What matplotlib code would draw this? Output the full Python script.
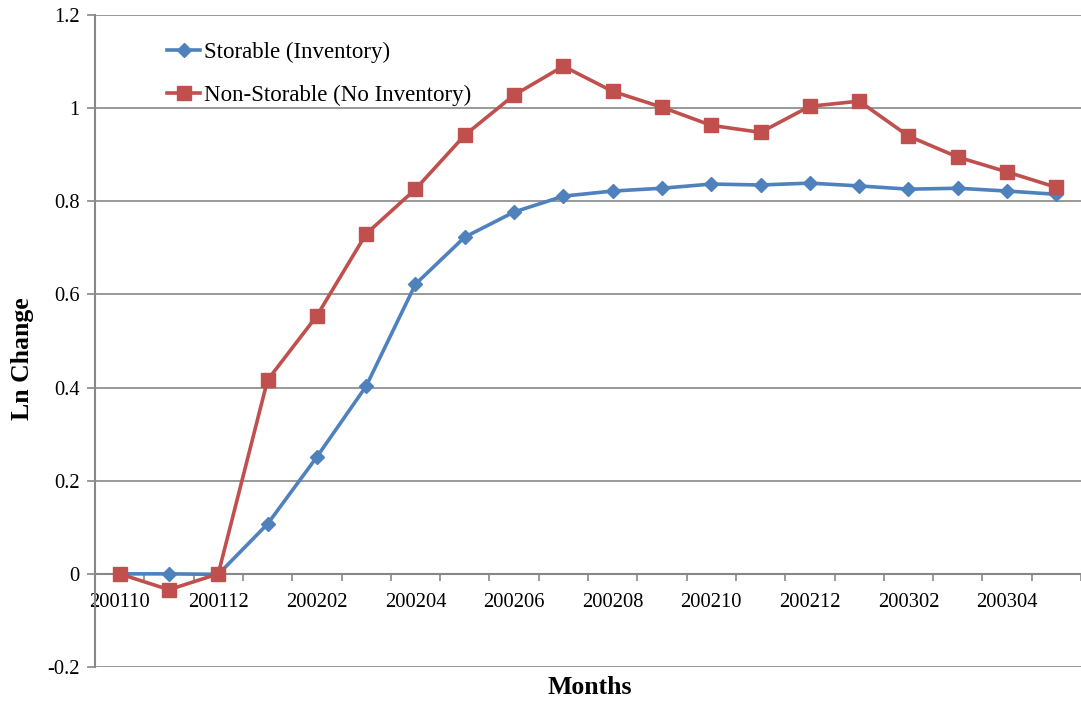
import numpy as np
import matplotlib as mpl
import matplotlib.pyplot as plt

months = ['200110', '200111', '200112', '200201', '200202', '200203', '200204',
          '200205', '200206', '200207', '200208', '200209', '200210', '200211',
          '200212', '200301', '200302', '200303', '200304', '200305']
storable = [0.0, 0.0, -0.001, 0.107, 0.251, 0.403, 0.622, 0.723, 0.777, 0.811,
            0.822, 0.828, 0.837, 0.835, 0.839, 0.833, 0.826, 0.828, 0.822, 0.815]
non_storable = [0.0, -0.034, 0.0, 0.416, 0.554, 0.730, 0.826, 0.942, 1.028, 1.090,
                1.036, 1.002, 0.963, 0.948, 1.004, 1.015, 0.940, 0.895, 0.863, 0.830]

# configuration
mpl.rcParams['font.family'] = 'Liberation Serif'
mpl.rcParams['font.size'] = 14.8

grid_col = '#878787'

fig = plt.figure(figsize=(10.81, 7.04), dpi=100)
ax = fig.add_axes([95 / 1081, 37 / 704, 986 / 1081, 652 / 704])

x = np.arange(len(months))
ax.plot(x, storable, marker='D', ms=7.5, lw=2.6, color='#4F81BD',
        label='Storable (Inventory)', zorder=3)
ax.plot(x, non_storable, marker='s', ms=10.5, lw=2.6, color='#C0504D',
        label='Non-Storable (No Inventory)', zorder=3)

# xlim, ylim
ax.set_xlim(-0.5, len(months) - 0.5)
ax.set_ylim(-0.2, 1.2)

# ticks
ax.set_yticks(np.arange(-0.2, 1.21, 0.2))
ax.set_yticklabels(['-0.2', '0', '0.2', '0.4', '0.6', '0.8', '1', '1.2'])
ax.set_xticks(x[::2])
ax.set_xticklabels(months[::2])
ax.set_xticks(np.arange(-0.5, len(months), 1), minor=True)
ax.tick_params(axis='x', which='major', length=0, pad=14)
ax.tick_params(axis='x', which='minor', length=5, direction='out', color=grid_col, width=1.2)
ax.tick_params(axis='y', length=6, direction='out', color=grid_col, width=1.2, pad=5)

ax.grid(axis='y', color=grid_col, lw=1.2)
ax.set_axisbelow(True)
ax.spines['bottom'].set_position(('data', 0))
ax.spines['bottom'].set_color(grid_col)
ax.spines['bottom'].set_linewidth(1.5)
ax.spines['left'].set_color(grid_col)
ax.spines['left'].set_linewidth(1.5)
ax.spines['top'].set_visible(False)
ax.spines['right'].set_visible(False)

# labels
fig.text(22 / 1081, 345 / 704, 'Ln Change', fontsize=18.5, fontweight='bold',
         rotation=90, ha='center', va='center')
fig.text(590 / 1081, 17 / 704, 'Months', fontsize=18.5, fontweight='bold',
         ha='center', va='center')

# legend
ax.legend(loc='upper left', bbox_to_anchor=(0.052, 0.99), frameon=False,
          fontsize=16.5, labelspacing=0.95, handlelength=1.45, handletextpad=0.15)

plt.savefig('out.png', dpi=100)
